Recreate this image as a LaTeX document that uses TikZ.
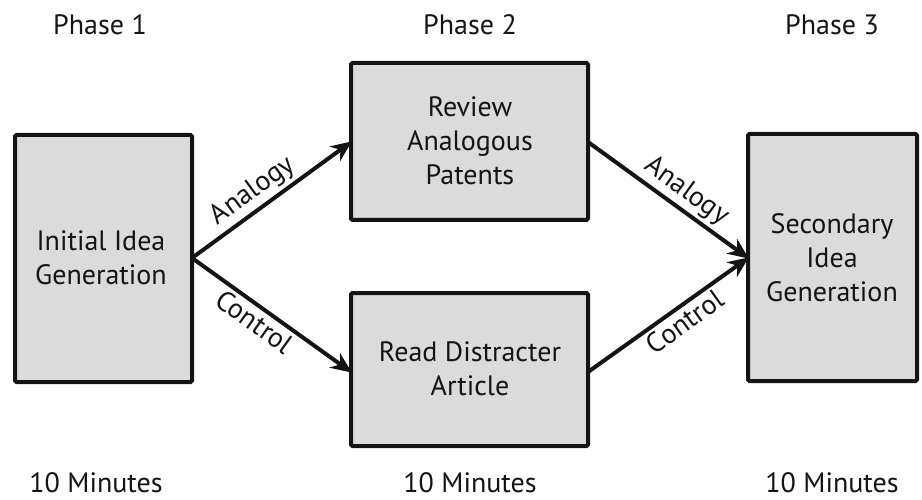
\documentclass[tikz,border=0pt]{standalone}
\usepackage{fontspec}
\setmainfont{PT Sans}
\usetikzlibrary{arrows.meta}
\begin{document}
\begin{tikzpicture}[x=1pt,y=-1pt,
  box/.style={draw=black!92, line width=4pt, fill=black!14, rounded corners=1.5pt},
  boxtext/.style={align=center, font=\fontsize{28}{34}\selectfont, text=black!92},
  lbl/.style={font=\fontsize{28}{32}\selectfont, text=black!92},
  arr/.style={line width=4pt, draw=black!92, -{Stealth[length=21pt,width=18pt]}, shorten >=-1pt},
  elbl/.style={font=\fontsize{28}{32}\selectfont, sloped, inner sep=3pt, text=black!92}
]
\useasboundingbox (0,0) rectangle (922,500);
\draw[box] (15,135) rectangle (192,382);
\draw[box] (351,63) rectangle (588,220);
\draw[box] (351,293) rectangle (588,446);
\draw[box] (748,134) rectangle (917,381);
\coordinate (lr) at (192,258);
\coordinate (tl) at (351,142);
\coordinate (tr) at (588,142);
\coordinate (bl) at (351,372);
\coordinate (br) at (588,372);
\coordinate (rl) at (748,258);
\node[boxtext] (n1) at (101,258) {Initial Idea\\Generation};
\node[boxtext] (n2) at (470,141) {Review\\Analogous\\Patents};
\node[boxtext] (n3) at (470,369) {Read Distracter\\Article};
\node[boxtext] (n4) at (832,258) {Secondary\\Idea\\Generation};
\draw[arr] (lr) -- node[elbl, above, pos=0.45] {Analogy} (tl);
\draw[arr] (lr) -- node[elbl, below, pos=0.45] {Control} (bl);
\draw[arr] (tr) -- node[elbl, above, pos=0.55] {Analogy} (rl);
\draw[arr] (br) -- node[elbl, below, pos=0.55] {Control} (rl);
\node[lbl] (p1) at (100,25) {Phase 1};
\node[lbl] (p2) at (470,25) {Phase 2};
\node[lbl] (p3) at (832,25) {Phase 3};
\node[lbl] (m1) at (96,483) {10 Minutes};
\node[lbl] (m2) at (470,483) {10 Minutes};
\node[lbl] (m3) at (832,483) {10 Minutes};
\end{tikzpicture}
\end{document}
